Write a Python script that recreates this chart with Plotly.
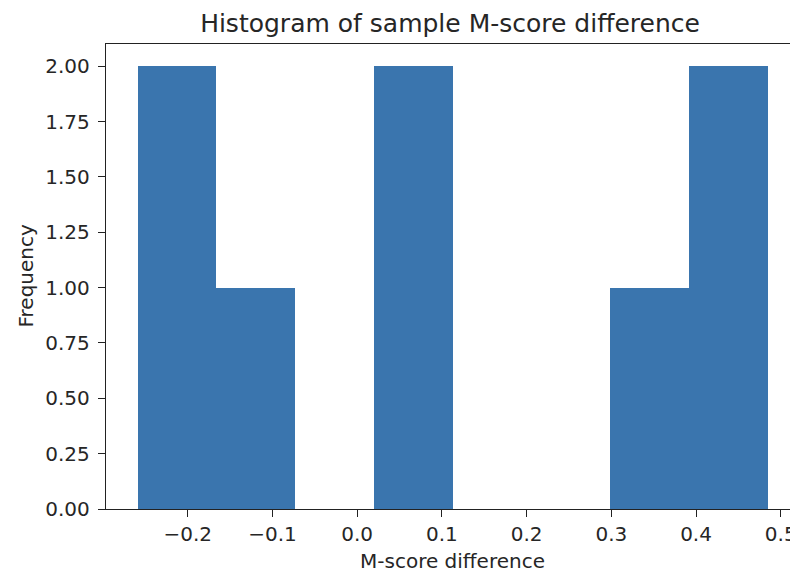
import plotly.graph_objects as go

# Histogram data (8 bins)
bin_edges = [-0.2593, -0.1663, -0.0733, 0.0197, 0.1127, 0.2057, 0.2986, 0.3916, 0.4846]
counts = [2, 1, 0, 2, 0, 0, 1, 2]
y_ticks = [0.0, 0.25, 0.5, 0.75, 1.0, 1.25, 1.5, 1.75, 2.0]
x_ticks = [-0.2, -0.1, 0.0, 0.1, 0.2, 0.3, 0.4, 0.5]

title_text = "Histogram of sample M-score difference"
x_label = "M-score difference"
y_label = "Frequency"

centers = [(a + b) / 2 for a, b in zip(bin_edges[:-1], bin_edges[1:])]
widths = [b - a for a, b in zip(bin_edges[:-1], bin_edges[1:])]

W, H = 790, 576
L, R, T, B = 106, 0, 44, 67
FONT = "DejaVu Sans"
TXT = "#262626"

fig = go.Figure(
    go.Bar(
        x=centers,
        y=counts,
        width=widths,
        marker=dict(color="#3a75ae", line=dict(width=0)),
        hoverinfo="x+y",
    )
)

fig.update_layout(
    width=W,
    height=H,
    margin=dict(l=L, r=R, t=T, b=B, autoexpand=False),
    paper_bgcolor="white",
    plot_bgcolor="white",
    bargap=0,
    showlegend=False,
    font=dict(family=FONT, size=20, color=TXT),
    title=dict(
        text=title_text,
        xref="container",
        yref="container",
        x=450 / W,
        y=1 - 23 / H,
        xanchor="center",
        yanchor="middle",
        font=dict(family=FONT, size=25, color=TXT),
    ),
    xaxis=dict(
        range=[-0.2965, 0.5109],
        tickvals=x_ticks,
        ticktext=[f"{v:.1f}".replace("-", "\u2212") for v in x_ticks],
        ticks="outside",
        ticklen=7,
        tickwidth=1.4,
        tickcolor="#222",
        showline=True,
        linecolor="#222",
        linewidth=1.4,
        mirror=True,
        showgrid=False,
        zeroline=False,
        automargin=False,
        ticklabeloverflow="allow",
        tickfont=dict(family=FONT, size=20, color=TXT),
    ),
    yaxis=dict(
        range=[0, 2.1],
        tickvals=y_ticks,
        ticktext=[f"{v:.2f}" for v in y_ticks],
        ticks="outside",
        ticklen=7,
        tickwidth=1.4,
        tickcolor="#222",
        showline=True,
        linecolor="#222",
        linewidth=1.4,
        mirror=False,
        showgrid=False,
        zeroline=False,
        automargin=False,
        ticklabelstandoff=4,
        tickfont=dict(family=FONT, size=20, color=TXT),
    ),
    annotations=[
        dict(
            text=x_label,
            xref="paper",
            yref="paper",
            x=(452 - L) / (W - L - R),
            y=-(561 - (H - B)) / (H - T - B),
            xanchor="center",
            yanchor="middle",
            showarrow=False,
            font=dict(family=FONT, size=20, color=TXT),
        ),
        dict(
            text=y_label,
            xref="paper",
            yref="paper",
            x=-(L - 25) / (W - L - R),
            y=0.5,
            xanchor="center",
            yanchor="middle",
            textangle=-90,
            showarrow=False,
            font=dict(family=FONT, size=20, color=TXT),
        ),
    ],
)

fig.write_html(
    "out.html",
    config={"displayModeBar": False},
    post_script="document.body.style.margin='0';document.body.style.overflow='hidden';",
)
